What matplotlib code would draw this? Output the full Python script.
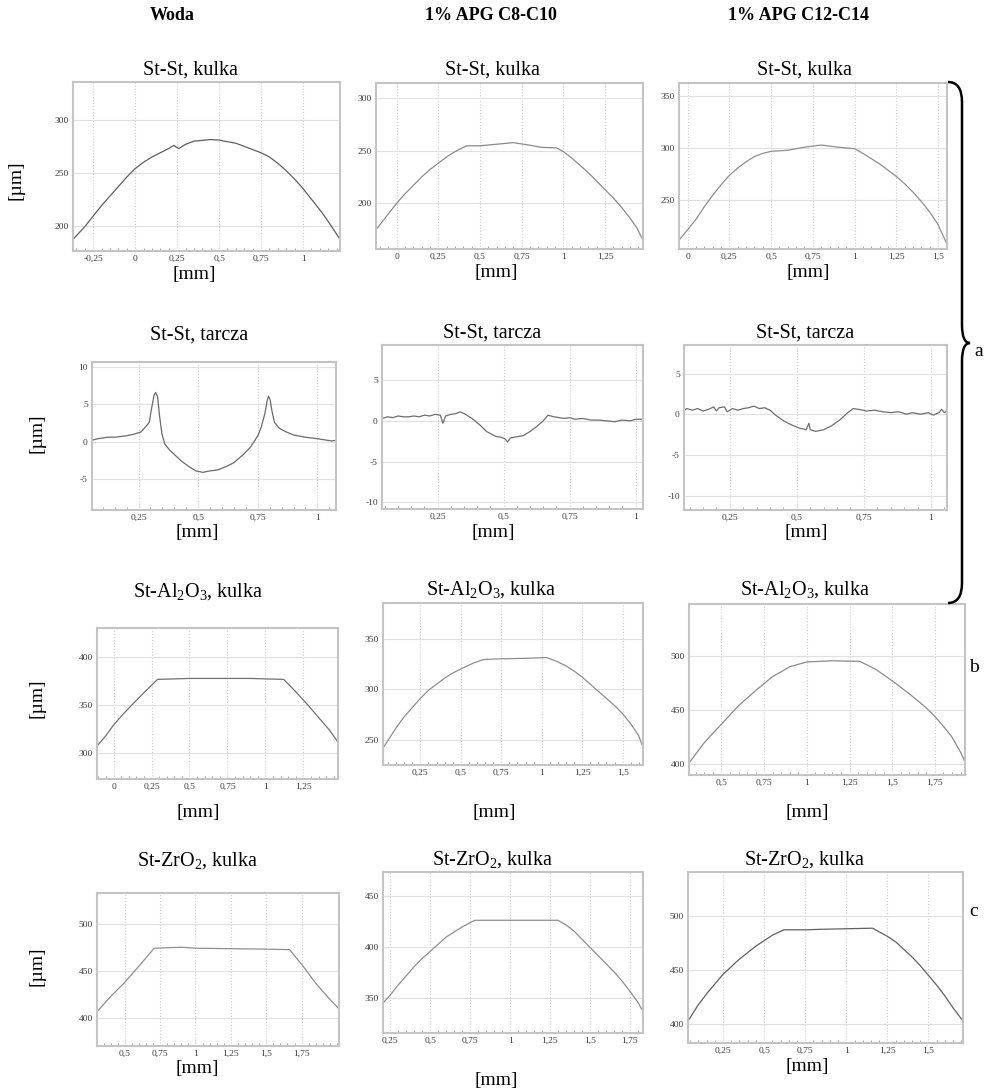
import matplotlib
matplotlib.use("Agg")
import matplotlib.pyplot as plt
from matplotlib.ticker import FuncFormatter, AutoMinorLocator
from matplotlib.path import Path
from matplotlib.patches import PathPatch

plt.rcParams['font.family'] = ['Liberation Serif', 'DejaVu Serif']
plt.rcParams['mathtext.fontset'] = 'custom'
plt.rcParams['mathtext.rm'] = 'Liberation Serif'

W, H = 987, 1088

col_headers = ["Woda", "1% APG C8-C10", "1% APG C12-C14"]
row_titles = ["St-St, kulka", "St-St, tarcza",
              r"St-Al$_\mathrm{2}$O$_\mathrm{3}$, kulka",
              r"St-ZrO$_\mathrm{2}$, kulka"]
row_labels = ["a", "b", "c"]

# --- row 1: St-St, kulka (profile in um vs mm)
kulka_woda_x = [-0.37, -0.3, -0.25, -0.2, -0.15, -0.1, -0.05, 0, 0.05, 0.1, 0.15, 0.2,
                0.23, 0.26, 0.3, 0.35, 0.45, 0.5, 0.6, 0.7, 0.75, 0.8, 0.85, 0.9,
                0.95, 1.0, 1.05, 1.1, 1.15, 1.22]
kulka_woda_y = [187, 199, 209, 219, 228, 237, 246, 254, 260, 265, 269, 273,
                276, 273, 277, 280, 281.5, 281, 278, 272, 269, 265, 259, 252,
                244, 235, 225, 215, 204, 187]
kulka_c810_x = [-0.124, -0.05, 0, 0.05, 0.1, 0.15, 0.2, 0.25, 0.3, 0.35, 0.42, 0.5,
                0.6, 0.7, 0.8, 0.87, 0.96, 1.0, 1.05, 1.1, 1.15, 1.2, 1.25, 1.3,
                1.35, 1.4, 1.44, 1.478]
kulka_c810_y = [175, 190, 200, 209, 217, 225, 232, 238, 244, 249, 254.5, 254.5,
                256, 257.5, 255, 253, 252.5, 249, 243, 236, 229, 221, 213, 205,
                196, 186, 177, 165]
kulka_c1214_x = [-0.052, 0, 0.05, 0.1, 0.15, 0.2, 0.25, 0.3, 0.35, 0.4, 0.45, 0.5,
                 0.6, 0.7, 0.8, 0.9, 1.0, 1.05, 1.1, 1.15, 1.2, 1.25, 1.3, 1.35,
                 1.4, 1.45, 1.5, 1.554]
kulka_c1214_y = [212, 222, 232, 244, 255, 265, 274, 281, 287, 292, 295, 297,
                 298, 301, 303, 301, 299.5, 295, 290, 285, 279, 273, 266, 258,
                 249, 239, 227, 208]

# --- row 2: St-St, tarcza
tarcza_woda_x = [0.055, 0.08, 0.12, 0.15, 0.2, 0.23, 0.26, 0.28, 0.295, 0.305, 0.315,
                 0.322, 0.33, 0.338, 0.348, 0.36, 0.38, 0.4, 0.43, 0.46, 0.49, 0.52,
                 0.55, 0.58, 0.62, 0.65, 0.69, 0.72, 0.75, 0.765, 0.78, 0.79, 0.795,
                 0.802, 0.81, 0.82, 0.84, 0.87, 0.9, 0.95, 1.0, 1.04, 1.06, 1.078]
tarcza_woda_y = [0.2, 0.4, 0.6, 0.6, 0.8, 1.0, 1.3, 2.0, 2.6, 4.5, 6.2,
                 6.6, 6.0, 3.5, 1.1, -0.3, -1.1, -1.7, -2.6, -3.3, -3.9, -4.1,
                 -3.9, -3.8, -3.3, -2.8, -1.7, -0.7, 0.8, 2.0, 3.8, 5.6, 6.1,
                 5.6, 4.0, 2.6, 1.8, 1.3, 0.9, 0.6, 0.4, 0.2, 0.1, 0.2]
tarcza_c810_x = [0.04, 0.06, 0.08, 0.1, 0.12, 0.14, 0.16, 0.18, 0.2, 0.22, 0.24, 0.26,
                 0.27, 0.28, 0.3, 0.32, 0.335, 0.35, 0.38, 0.41, 0.435, 0.47, 0.49,
                 0.505, 0.515, 0.525, 0.54, 0.575, 0.6, 0.625, 0.65, 0.668, 0.69,
                 0.71, 0.73, 0.75, 0.77, 0.8, 0.83, 0.86, 0.89, 0.92, 0.95, 0.98,
                 1.0, 1.028]
tarcza_c810_y = [0.3, 0.5, 0.4, 0.6, 0.5, 0.5, 0.6, 0.5, 0.7, 0.6, 0.8, 0.7,
                 -0.3, 0.6, 0.8, 0.9, 1.1, 0.9, 0.3, -0.5, -1.3, -1.9, -2.0,
                 -2.2, -2.6, -2.1, -2.0, -1.8, -1.3, -0.7, 0.0, 0.7, 0.5,
                 0.4, 0.3, 0.4, 0.2, 0.3, 0.1, 0.1, 0.0, -0.1, 0.1, 0.0,
                 0.2, 0.2]
tarcza_c1214_x = [0.08, 0.09, 0.11, 0.13, 0.15, 0.17, 0.19, 0.2, 0.21, 0.23, 0.24, 0.26,
                  0.28, 0.3, 0.32, 0.34, 0.36, 0.38, 0.4, 0.42, 0.45, 0.48, 0.51,
                  0.535, 0.545, 0.55, 0.57, 0.6, 0.63, 0.66, 0.69, 0.71, 0.73, 0.76,
                  0.79, 0.82, 0.85, 0.88, 0.91, 0.93, 0.96, 0.99, 1.01, 1.03, 1.04,
                  1.05, 1.06]
tarcza_c1214_y = [0.5, 0.7, 0.5, 0.7, 0.4, 0.6, 0.9, 0.4, 0.8, 0.9, 0.3, 0.7,
                  0.5, 0.7, 0.8, 1.0, 0.7, 0.8, 0.5, -0.1, -0.8, -1.3, -1.7,
                  -1.9, -1.1, -1.9, -2.1, -1.9, -1.4, -0.7, 0.2, 0.7, 0.6, 0.4,
                  0.5, 0.3, 0.2, 0.3, 0.0, 0.2, 0.0, 0.2, -0.1, 0.2, 0.6,
                  0.2, 0.4]

# --- row 3: St-Al2O3, kulka
al_woda_x = [-0.109, -0.05, 0, 0.06, 0.12, 0.2, 0.29, 0.4, 0.5, 0.75, 0.9, 1.0,
             1.12, 1.2, 1.28, 1.35, 1.42, 1.478]
al_woda_y = [307, 318, 329, 340, 350, 363, 377, 377.5, 378, 378, 378, 377.5,
             377, 364, 350, 337, 324, 311]
al_c810_x = [0.019, 0.1, 0.15, 0.2, 0.25, 0.3, 0.35, 0.4, 0.45, 0.5, 0.58, 0.64,
             0.75, 0.9, 1.03, 1.1, 1.15, 1.2, 1.25, 1.3, 1.35, 1.4, 1.45, 1.5,
             1.55, 1.6, 1.626]
al_c810_y = [242, 262, 273, 282, 291, 299, 305, 311, 316, 320, 326, 329.3,
             330, 330.5, 331.3, 327, 323, 318, 312, 305, 298, 291, 284, 276,
             266, 254, 243]
al_c1214_x = [0.31, 0.4, 0.5, 0.6, 0.7, 0.8, 0.9, 1.0, 1.15, 1.31, 1.4, 1.5,
              1.6, 1.7, 1.75, 1.8, 1.85, 1.9, 1.926]
al_c1214_y = [401, 420, 437, 454, 468, 481, 490, 494.5, 495.5, 495, 488, 477,
              465, 452, 444, 435, 425, 411, 402]

# --- row 4: St-ZrO2, kulka
zr_woda_x = [0.304, 0.4, 0.5, 0.6, 0.708, 0.8, 0.9, 1.0, 1.25, 1.5, 1.665, 1.75,
             1.85, 1.95, 2.014]
zr_woda_y = [407, 423, 438, 455, 474, 474.5, 475, 474, 473.5, 473, 472.5, 457,
             437, 420, 410]
zr_c810_x = [0.204, 0.25, 0.3, 0.35, 0.4, 0.45, 0.5, 0.55, 0.6, 0.65, 0.7, 0.78,
             1.0, 1.3, 1.35, 1.4, 1.45, 1.5, 1.55, 1.6, 1.65, 1.7, 1.75, 1.8,
             1.833]
zr_c810_y = [345, 353, 363, 372, 381, 389, 396, 403, 410, 415, 420, 426.5,
             426.5, 426.5, 422, 416, 408, 400, 392, 384, 376, 367, 357, 346,
             337]
zr_c1214_x = [0.037, 0.1, 0.15, 0.2, 0.25, 0.3, 0.35, 0.4, 0.45, 0.5, 0.55, 0.62,
              0.75, 0.85, 1.0, 1.16, 1.25, 1.3, 1.35, 1.4, 1.45, 1.5, 1.55, 1.6,
              1.65, 1.71]
zr_c1214_y = [403, 418, 428, 437, 446, 453, 460, 466, 472, 477, 482, 487,
              487, 487.5, 488, 488.5, 481, 476, 469, 462, 454, 445, 436, 426,
              415, 403]

# axis ranges and ticks, one entry per panel (row by row)
xlims = [(-0.37, 1.22), (-0.124, 1.478), (-0.052, 1.554),
         (0.055, 1.078), (0.039, 1.028), (0.079, 1.06),
         (-0.109, 1.478), (0.019, 1.626), (0.31, 1.926),
         (0.304, 2.014), (0.204, 1.833), (0.037, 1.71)]
ylims = [(176, 336), (156.7, 314), (203.5, 362.4),
         (-9.14, 10.67), (-10.8, 9.3), (-11.75, 8.5),
         (272.3, 431), (225.4, 385), (390, 548),
         (370.9, 532.2), (315.6, 474), (382.7, 540.3)]
xticks = [[-0.25, 0, 0.25, 0.5, 0.75, 1], [0, 0.25, 0.5, 0.75, 1, 1.25],
          [0, 0.25, 0.5, 0.75, 1, 1.25, 1.5],
          [0.25, 0.5, 0.75, 1], [0.25, 0.5, 0.75, 1], [0.25, 0.5, 0.75, 1],
          [0, 0.25, 0.5, 0.75, 1, 1.25], [0.25, 0.5, 0.75, 1, 1.25, 1.5],
          [0.5, 0.75, 1, 1.25, 1.5, 1.75],
          [0.5, 0.75, 1, 1.25, 1.5, 1.75], [0.25, 0.5, 0.75, 1, 1.25, 1.5, 1.75],
          [0.25, 0.5, 0.75, 1, 1.25, 1.5]]
yticks = [[200, 250, 300], [200, 250, 300], [250, 300, 350],
          [-5, 0, 5, 10], [-10, -5, 0, 5], [-10, -5, 0, 5],
          [300, 350, 400], [250, 300, 350], [400, 450, 500],
          [400, 450, 500], [350, 400, 450], [400, 450, 500]]

series = [(kulka_woda_x, kulka_woda_y), (kulka_c810_x, kulka_c810_y), (kulka_c1214_x, kulka_c1214_y),
          (tarcza_woda_x, tarcza_woda_y), (tarcza_c810_x, tarcza_c810_y), (tarcza_c1214_x, tarcza_c1214_y),
          (al_woda_x, al_woda_y), (al_c810_x, al_c810_y), (al_c1214_x, al_c1214_y),
          (zr_woda_x, zr_woda_y), (zr_c810_x, zr_c810_y), (zr_c1214_x, zr_c1214_y)]

# axes boxes in pixels: left, top, right, bottom
boxes = [(73, 82, 340, 251), (376, 83, 643, 249), (679, 83, 947, 249),
         (92, 362, 336, 510), (382, 345, 643, 509), (684, 345, 947, 510),
         (97, 628, 338, 779), (383, 603, 643, 765), (689, 604, 965, 775),
         (97, 893, 339, 1046), (383, 872, 643, 1033), (688, 872, 963, 1043)]
line_colors = ['#5e5e5e', '#8a8a8a', '#8e8e8e',
               '#6a6a6a', '#6e6e6e', '#6e6e6e',
               '#707070', '#8e8e8e', '#8a8a8a',
               '#8e8e8e', '#8e8e8e', '#606060']


def comma(v, pos):
    return f"{v:g}".replace('.', ',')


def ftext(x, y, s, **kw):
    fig.text(x / W, 1 - y / H, s, ha='center', va='center', **kw)


fig = plt.figure(figsize=(W / 100, H / 100), dpi=100)

for i, (l, t, r, b) in enumerate(boxes):
    ax = fig.add_axes([l / W, 1 - b / H, (r - l) / W, (b - t) / H])
    x, y = series[i]
    ax.plot(x, y, color=line_colors[i], lw=0.9)
    ax.set_xlim(*xlims[i])
    ax.set_ylim(*ylims[i])
    ax.set_xticks(xticks[i])
    ax.set_yticks(yticks[i])
    ax.xaxis.set_major_formatter(FuncFormatter(comma))
    ax.yaxis.set_major_formatter(FuncFormatter(comma))
    ax.xaxis.set_minor_locator(AutoMinorLocator(5))
    ax.tick_params(axis='both', which='major', labelsize=6.8, labelcolor='#3a3a3a',
                   length=0, pad=3)
    ax.tick_params(axis='x', which='minor', direction='in', length=2.5,
                   color='#9a9a9a', width=0.6)
    ax.grid(True, axis='x', which='major', color='#cccccc', ls=':', lw=0.8)
    ax.grid(True, axis='y', which='major', color='#e0e0e0', ls='-', lw=0.8)
    for sp in ax.spines.values():
        sp.set_color('#c4c4c4')
        sp.set_linewidth(1.5)

# column headers
for cx, txt in zip([172, 491, 799], col_headers):
    ftext(cx, 15, txt, fontsize=13, fontweight='bold')

# panel titles
title_pos = [[(190, 70), (492, 70), (804, 70)],
             [(199, 335), (492, 333), (805, 333)],
             [(198, 592), (491, 590), (805, 590)],
             [(198, 861), (493, 860), (805, 860)]]
for r, row in enumerate(title_pos):
    for (tx, ty) in row:
        ftext(tx, ty, row_titles[r], fontsize=14.5)

# x axis labels
mm_pos = [(194, 274), (496, 273), (808, 273),
          (197, 533), (493, 533), (806, 533),
          (198, 812), (494, 812), (807, 812),
          (197, 1068), (496, 1080), (807, 1067)]
for (mx, my) in mm_pos:
    ftext(mx, my, "[mm]", fontsize=14)

# y axis labels
for (ux, uy) in [(16, 180), (37, 433), (37, 698), (37, 966)]:
    ftext(ux, uy, "[\u00b5m]", fontsize=14, rotation=90)

# brace for group a and the row letters
ov = fig.add_axes([0, 0, 1, 1])
ov.set_xlim(0, W)
ov.set_ylim(H, 0)
ov.axis('off')
ov.patch.set_alpha(0)
verts = [(948, 82), (962, 82), (962, 102), (962, 325),
         (962, 343), (970, 343), (962, 343), (962, 361),
         (962, 583), (962, 603), (948, 603)]
codes = [Path.MOVETO, Path.CURVE3, Path.CURVE3, Path.LINETO,
         Path.CURVE3, Path.CURVE3, Path.CURVE3, Path.CURVE3,
         Path.LINETO, Path.CURVE3, Path.CURVE3]
ov.add_patch(PathPatch(Path(verts, codes), fill=False, lw=1.8, color='black'))

for (lx, ly), lab in zip([(979, 351), (974, 668), (974, 912)], row_labels):
    ftext(lx, ly, lab, fontsize=14)

fig.savefig("out.png", dpi=100)
